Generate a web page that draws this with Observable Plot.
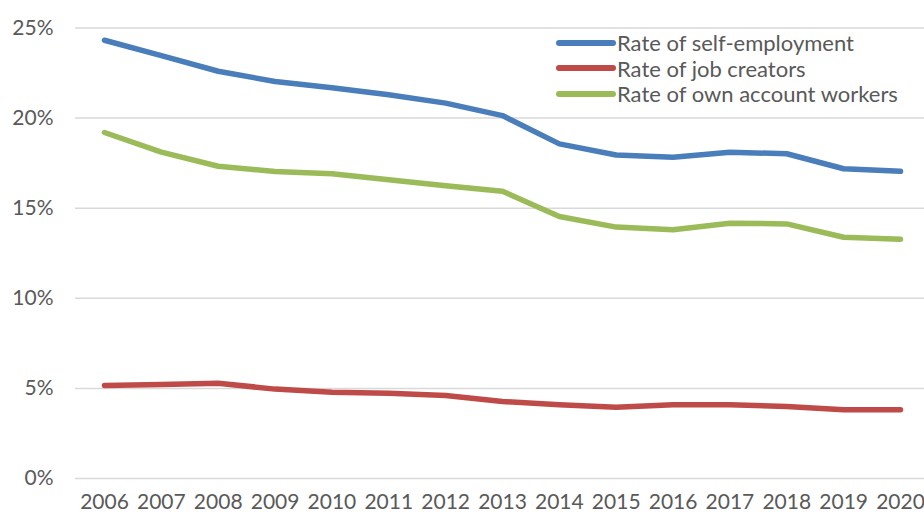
<!DOCTYPE html>
<html>
<head>
<meta charset="utf-8">
<script src="https://cdn.jsdelivr.net/npm/d3@7"></script>
<script src="https://cdn.jsdelivr.net/npm/@observablehq/plot@0.6"></script>
<style>
  html, body { margin: 0; padding: 0; background: #fff; }
  #wrap { position: relative; width: 924px; height: 518px; font-family: Lato, "Open Sans", sans-serif; }
  #legend { position: absolute; left: 555px; top: 30px; color: #595959; font-size: 22px; }
  #legend .item { display: flex; align-items: center; height: 25.5px; }
  #legend svg { margin-right: 1px; }
</style>
</head>
<body>
<div id="wrap"></div>
<script>
const years = [2006, 2007, 2008, 2009, 2010, 2011, 2012, 2013, 2014, 2015, 2016, 2017, 2018, 2019, 2020];
const selfEmployment = [24.32, 23.47, 22.6, 22.03, 21.68, 21.29, 20.83, 20.14, 18.57, 17.95, 17.83, 18.11, 18.02, 17.19, 17.05];
const jobCreators = [5.16, 5.22, 5.29, 4.96, 4.79, 4.73, 4.61, 4.27, 4.09, 3.96, 4.09, 4.09, 4.0, 3.81, 3.81];
const ownAccount = [19.2, 18.11, 17.33, 17.04, 16.91, 16.58, 16.24, 15.94, 14.54, 13.95, 13.8, 14.17, 14.13, 13.39, 13.28];
const seriesNames = ["Rate of self-employment", "Rate of job creators", "Rate of own account workers"];
const seriesColors = ["#4A7EBB", "#BE4B48", "#9BBB59"];
const yTicks = [0, 5, 10, 15, 20, 25];

const seriesValues = [selfEmployment, jobCreators, ownAccount];
const data = seriesNames.flatMap((name, i) =>
  years.map((year, j) => ({ series: name, year, value: seriesValues[i][j] }))
);

const chart = Plot.plot({
  width: 924,
  height: 518,
  marginLeft: 75,
  marginRight: 0,
  marginTop: 27.5,
  marginBottom: 40,
  style: { fontFamily: "Lato, 'Open Sans', sans-serif", fontSize: "21px", color: "#595959", background: "#fff" },
  x: { type: "linear", domain: [2006, 2020], range: [104, 900] },
  y: { domain: [0, 25] },
  color: { domain: seriesNames, range: seriesColors },
  marks: [
    Plot.ruleY(yTicks, { stroke: "#d9d9d9", strokeWidth: 1.5 }),
    Plot.axisY({ ticks: yTicks, tickSize: 0, tickPadding: 22, tickFormat: d => d + "%", fill: "#595959", label: null }),
    Plot.axisX({ ticks: years, tickSize: 0, tickPadding: 16, tickFormat: d => String(d), fill: "#595959", label: null }),
    Plot.line(data, { x: "year", y: "value", z: "series", stroke: "series", strokeWidth: 5.5, strokeLinecap: "round", strokeLinejoin: "round" })
  ]
});

const wrap = document.getElementById("wrap");
wrap.appendChild(chart);

const legend = document.createElement("div");
legend.id = "legend";
seriesNames.forEach((name, i) => {
  const item = document.createElement("div");
  item.className = "item";
  item.innerHTML = `<svg width="61" height="10"><line x1="4" y1="5" x2="58" y2="5" stroke="${seriesColors[i]}" stroke-width="6" stroke-linecap="round"/></svg><span>${name}</span>`;
  legend.appendChild(item);
});
wrap.appendChild(legend);
</script>
</body>
</html>
